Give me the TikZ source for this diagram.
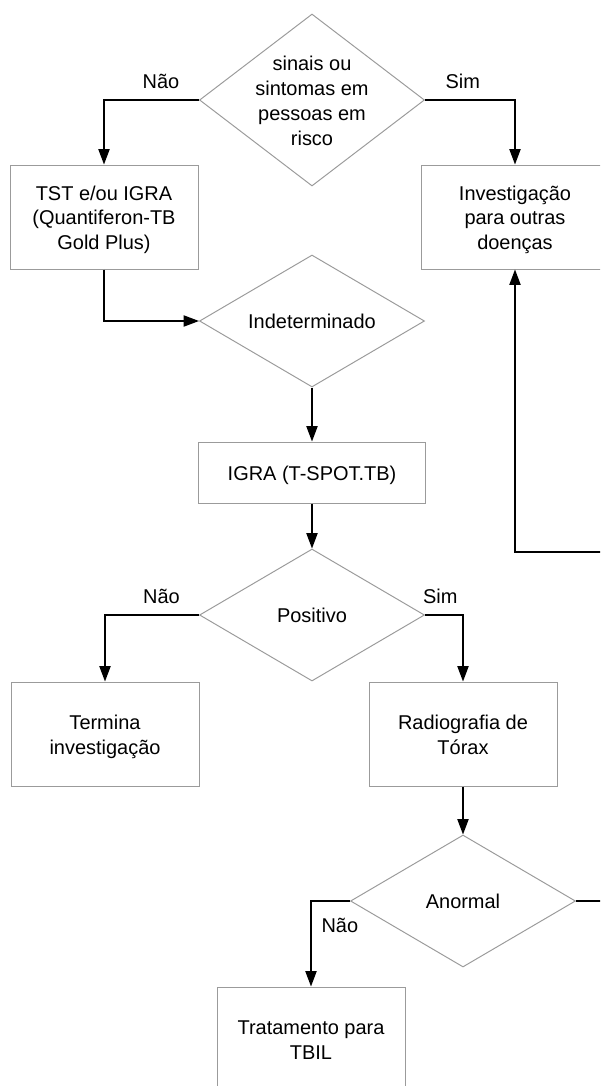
\documentclass[tikz,border=0pt]{standalone}
\usepackage{fontspec}
\setmainfont{Liberation Sans}
\usetikzlibrary{shapes.geometric, positioning, arrows.meta}

\definecolor{shapegray}{HTML}{9B9B9B}
\newcommand{\flowfont}{\fontsize{14.2}{17.7}\selectfont}
\newcommand{\celltext}[1]{\makebox[0pt]{\raisebox{-0.4em}{\begin{tabular}{@{}c@{}}#1\end{tabular}}}}

\begin{document}
\begin{tikzpicture}[
    ->,
    >={Triangle[length=11pt,width=8pt]},
    line width=1pt,
    on grid,
    every node/.style={font=\flowfont},
    decision/.style={
        diamond,
        draw=shapegray,
        line width=0.7pt,
        inner sep=0pt,
        text height=0pt,
        text depth=0pt,
        minimum width=5.625cm,
        minimum height=#1,
    },
    process/.style={
        rectangle,
        draw=shapegray,
        line width=0.7pt,
        inner sep=0pt,
        text height=0pt,
        text depth=0pt,
        minimum width=4.7cm,
        minimum height=2.6cm,
    },
    lbl/.style={inner sep=0pt},
]
\useasboundingbox (0,0) rectangle (15,-27.15);
\clip (0,0) rectangle (15,-27.15);

% --- Nodes ---
\node[decision=4.3cm] (d1) at (7.8,-2.5) {\celltext{sinais ou\\sintomas em\\pessoas em\\risco}};
\node[process] (b1) [below left=2.925cm and 5.2cm of d1] {\celltext{TST e/ou IGRA\\(Quantiferon-TB\\Gold Plus)}};
\node[process] (b2) [below right=2.925cm and 5.075cm of d1] {\celltext{Investigação\\para outras\\doenças}};
\node[decision=3.3cm] (d2) [below=5.525cm of d1] {\celltext{Indeterminado}};
\node[process, minimum width=5.675cm, minimum height=1.525cm] (b3) [below=3.7875cm of d2] {\celltext{IGRA (T-SPOT.TB)}};
\node[decision=3.3cm] (d3) [below=3.5625cm of b3] {\celltext{Positivo}};
\node[process] (b4) [below left=2.975cm and 5.175cm of d3] {\celltext{Termina\\investigação}};
\node[process] (b5) [below right=2.975cm and 3.775cm of d3] {\celltext{Radiografia de\\Tórax}};
\node[decision=3.3cm] (d4) [below=4.175cm of b5] {\celltext{Anormal}};
\node[process] (b6) [below left=3.45cm and 3.8cm of d4] {\celltext{Tratamento para\\TBIL}};
\coordinate (back) at (16,-13.8);

% --- Connectors ---
\draw (d1.west) -| node[lbl, above=7.8pt, pos=0.2] {Não} (b1.north);
\draw (d1.east) -| node[lbl, above=7.8pt, pos=0.21] {Sim} (b2.north);
\draw (b1.south) |- (d2.west);
\draw (d2.south) -- (b3.north);
\draw (b3.south) -- (d3.north);
\draw (d3.west) -| node[lbl, above=7.8pt, pos=0.2] {Não} (b4.north);
\draw (d3.east) -| node[lbl, above=7.8pt, pos=0.2] {Sim} (b5.north);
\draw (b5.south) -- (d4.north);
\draw (d4.west) -| node[lbl, right=7pt, pos=0.64] {Não} (b6.north);
\draw (d4.east) -| (back) -| (b2.south);

\end{tikzpicture}
\end{document}
